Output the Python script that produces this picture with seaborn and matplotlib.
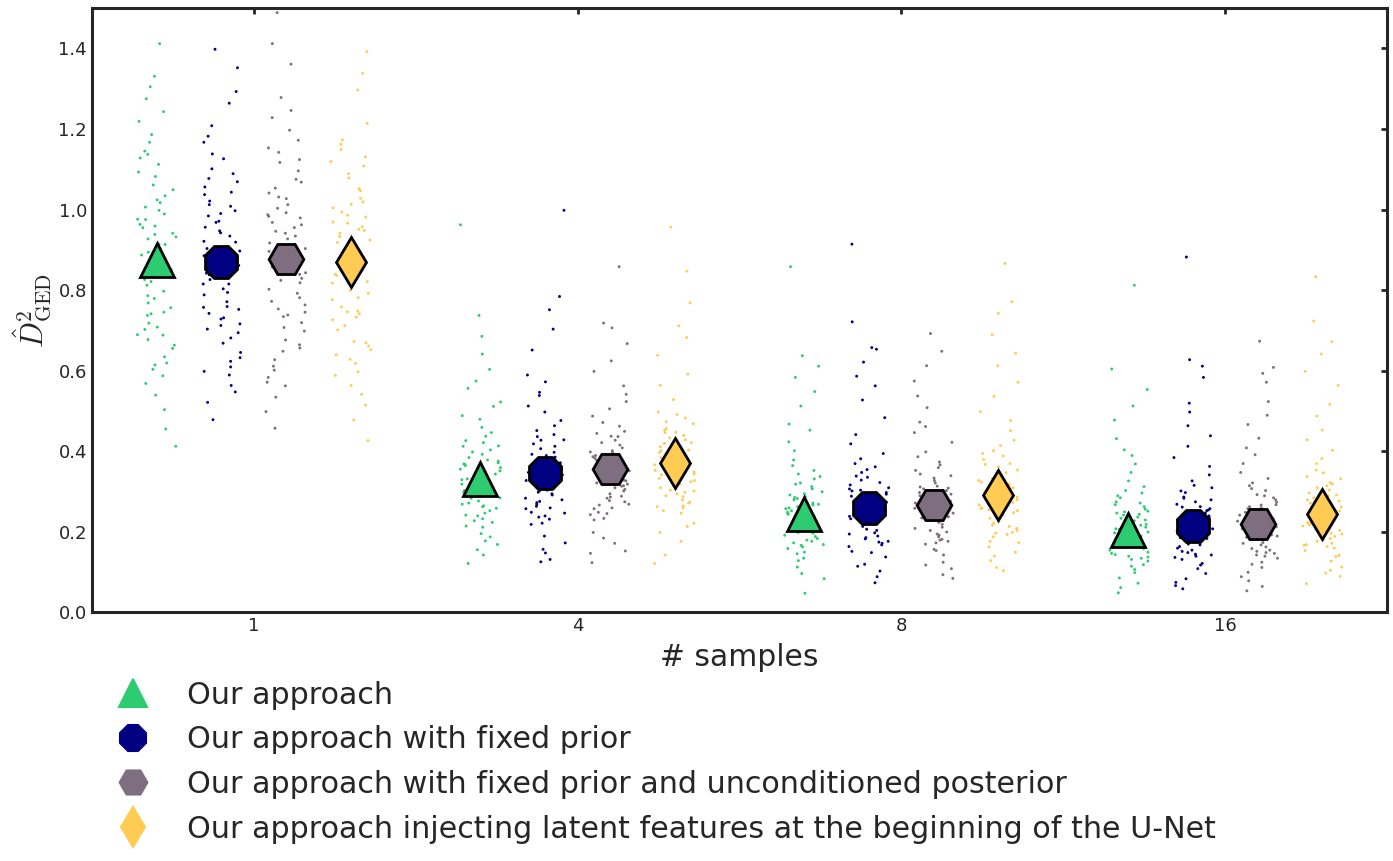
import numpy as np
import pandas as pd
import matplotlib
matplotlib.use("Agg")
import matplotlib.pyplot as plt
from matplotlib.lines import Line2D
import seaborn as sns

# groups on the x axis and the four methods
sample_counts = ["1", "4", "8", "16"]
methods = [
    "Our approach",
    "Our approach with fixed prior",
    "Our approach with fixed prior and unconditioned posterior",
    "Our approach injecting latent features at the beginning of the U-Net",
]
colores = ["#2ecc71", "#000080", "#7e6e7f", "#ffcb52"]
marcadores = ["^", "8", "H", "d"]

# mean values (big markers): rows = methods, cols = # samples
mean_vals = [
    [0.875, 0.330, 0.245, 0.205],
    [0.870, 0.345, 0.258, 0.215],
    [0.876, 0.356, 0.265, 0.220],
    [0.870, 0.370, 0.290, 0.245],
]

# individual values of the clouds, in thousandths
pts_1_m0 = """872 913 768 1024 655 941 887 702 1093 831 976 614 858 1137 745 903 689 998 812 1061
927 634 779 955 1112 843 718 1006 881 663 932 797 1049 756 869 1128 688 914 821 975 603 1082 737
894 959 851 1017 677 786 938 1145 826 708 963 892 741 1034 619 867 989 1186 1243 1305 1412 1167
1331 1219 1275 412 568 503 587 455 539"""
pts_1_m1 = """864 921 788 1012 703 956 842 731 1077 897 815 668 934 1101 752 881 623 990 849 1043
907 694 771 968 1126 838 742 1008 876 645 919 803 1056 728 861 1089 712 947 826 984 598 1069 759
903 873 815 1021 681 794 942 1138 833 716 971 885 757 1037 632 852 997 1182 1208 1264 1352 1398
1167 1293 478 563 521 589 547 609"""
pts_1_m2 = """881 934 772 1031 648 962 857 719 1096 903 824 601 946 1124 763 889 676 1003 839 1068
917 627 781 979 1142 846 734 1012 872 656 927 792 1053 745 866 1117 698 955 818 987 583 1075 753
909 968 843 1027 664 802 941 1153 829 707 983 896 738 1041 611 874 992 1197 1246 1278 1361 1412
1489 1172 1228 457 534 562 498 571"""
pts_1_m3 = """867 918 781 1019 672 951 853 726 1089 892 828 639 941 1108 758 884 661 994 836 1052
909 618 776 966 1119 849 741 1004 879 652 924 799 1047 733 863 1131 701 948 817 981 597 1078 748
904 957 839 1013 669 792 933 1149 821 712 969 887 746 1028 628 858 986 1173 1214 1297 1338 1392
1162 426 514 563 477 588 541"""

pts_4_m0 = """331 287 364 412 246 309 378 223 351 298 437 264 325 392 211 343 276 459 317 368 239
302 426 355 271 384 195 336 291 479 258 321 403 232 347 283 371 446 214 312 359 268 398 187 329
294 421 252 338 375 227 306 488 262 349 284 413 241 318 367 556 603 641 685 737 962 574 522 511
142 121 168 155 177"""
pts_4_m1 = """342 298 381 427 257 316 392 231 363 307 451 272 338 406 218 354 283 476 329 379 246
312 441 368 279 397 189 347 302 497 263 333 418 239 358 291 385 463 221 324 371 275 412 172 341
303 436 259 352 389 236 317 512 268 361 294 428 248 327 378 538 572 589 651 703 751 784 998 546
131 156 147 125"""
pts_4_m2 = """351 309 389 436 268 326 401 242 372 318 462 283 347 415 229 363 294 487 338 392 257
321 449 377 288 408 198 356 313 505 274 342 427 248 369 301 396 471 233 335 382 286 421 184 352
314 444 266 361 398 245 328 523 277 373 305 437 259 339 386 562 598 624 667 706 718 858 541 171
123 152 146"""
pts_4_m3 = """368 324 401 447 287 341 419 262 384 332 473 298 359 428 246 377 309 491 352 408 271
336 456 393 303 421 221 371 327 482 289 356 439 264 385 316 411 468 252 348 397 301 433 213 366
329 452 279 376 412 259 343 497 294 388 318 446 273 354 403 528 563 591 638 682 711 768 847 956
198 142 121 176"""

pts_8_m0 = """248 213 279 321 176 229 294 158 262 219 352 191 241 306 149 257 204 378 236 285 168
224 337 271 198 299 134 252 216 401 183 239 318 162 266 208 287 364 145 233 274 196 312 128 246
221 343 179 259 291 166 227 423 188 268 211 331 172 243 282 467 512 548 583 611 637 858 452 96
112 47 83"""
pts_8_m1 = """261 224 293 338 182 241 309 163 276 229 369 197 254 322 151 271 213 394 248 301 174
236 354 284 206 316 137 266 227 418 189 251 335 167 279 218 303 381 148 245 288 203 328 119 259
232 361 185 273 306 171 238 441 194 282 221 347 176 256 297 483 527 562 586 621 653 657 721 914
102 88 73 114"""
pts_8_m2 = """266 229 297 343 187 246 313 169 281 234 373 203 258 327 156 276 218 398 252 306 179
241 359 289 211 321 142 271 232 422 194 256 339 172 284 223 308 386 153 249 293 208 333 124 263
237 366 191 278 311 176 243 446 199 287 226 352 181 261 302 472 508 537 574 612 648 692 461 108
93 84 117"""
pts_8_m3 = """291 252 323 369 208 268 339 187 306 257 401 224 283 353 173 299 241 427 276 332 198
264 388 313 233 346 162 296 254 451 216 279 367 193 309 247 334 414 176 272 318 229 361 149 288
259 394 213 302 338 196 266 476 221 312 248 379 203 285 327 498 536 571 612 643 689 742 771 866
128 111 103 139"""

pts_16_m0 = """207 176 236 274 143 191 251 127 221 181 302 158 203 262 118 216 169 326 197 243 137
186 289 229 163 256 106 211 178 347 149 199 271 131 224 172 246 312 114 194 233 161 267 98 206
183 296 146 218 249 134 189 368 154 227 174 284 139 201 241 403 431 477 512 553 604 812 389 72
61 48 85"""
pts_16_m1 = """216 183 246 286 148 199 262 131 231 188 315 163 211 274 121 226 176 341 206 254 142
193 301 239 169 268 108 221 185 362 154 207 283 136 234 179 257 326 117 202 243 167 279 96 214
190 309 151 228 261 139 196 384 159 236 181 297 144 209 252 412 438 463 497 519 583 611 627 882
74 58 66 83"""
pts_16_m2 = """221 187 251 292 151 203 267 134 236 192 321 167 216 279 124 231 181 347 211 259 146
198 307 244 173 273 111 226 189 369 158 212 289 139 239 184 262 332 119 207 248 171 284 99 219
194 314 154 233 266 142 201 391 162 241 186 302 148 214 257 408 432 466 489 523 571 593 608 673
78 53 88 64"""
pts_16_m3 = """246 209 279 322 171 228 296 153 263 214 353 188 241 309 141 258 203 381 236 289 166
223 337 271 194 303 127 251 217 402 179 239 318 159 267 208 291 369 138 232 276 196 314 112 248
221 346 176 261 296 163 226 428 183 269 211 331 168 244 284 452 487 516 563 598 641 672 723 833
89 71 97 104"""

nubes = {
    "1": [pts_1_m0, pts_1_m1, pts_1_m2, pts_1_m3],
    "4": [pts_4_m0, pts_4_m1, pts_4_m2, pts_4_m3],
    "8": [pts_8_m0, pts_8_m1, pts_8_m2, pts_8_m3],
    "16": [pts_16_m0, pts_16_m1, pts_16_m2, pts_16_m3],
}

# long table for seaborn
filas = []
for s in sample_counts:
    for m, txt in zip(methods, nubes[s]):
        for v in txt.split():
            filas.append((s, m, int(v) / 1000.0))
df = pd.DataFrame(filas, columns=["samples", "method", "value"])

df_mean = pd.DataFrame(
    [(s, m, mean_vals[i][j]) for i, m in enumerate(methods) for j, s in enumerate(sample_counts)],
    columns=["samples", "method", "value"],
)

sns.set_theme(style="white")
plt.rcParams["mathtext.fontset"] = "cm"
plt.rcParams["font.family"] = ["DejaVu Sans"]

fig = plt.figure(figsize=(13.93, 8.61), dpi=100)
ax = fig.add_axes([0.066, 0.289, 0.9297, 0.7015])
paleta = dict(zip(methods, colores))

np.random.seed(3)
sns.stripplot(data=df, x="samples", y="value", hue="method", order=sample_counts,
              hue_order=methods, palette=paleta, dodge=True, jitter=0.25, size=2.1,
              linewidth=0, legend=False, ax=ax)

sns.pointplot(data=df_mean, x="samples", y="value", hue="method", order=sample_counts,
              hue_order=methods, palette=paleta, dodge=0.6, markers=marcadores,
              linestyles="none", errorbar=None, markersize=25, markeredgewidth=2.0,
              markeredgecolor="black", legend=False, ax=ax)
for ln in ax.lines:
    ln.set_markeredgecolor("black")
    ln.set_solid_joinstyle("round")
    ln.set_zorder(5)

ax.set_xlim(-0.5, 3.5)
ax.set_ylim(0, 1.5)
ax.set_yticks(np.arange(0, 1.41, 0.2))
ax.set_yticklabels([f"{t:.1f}" for t in np.arange(0, 1.41, 0.2)])
ax.set_xlabel("# samples", fontsize=21.5, color="#262626", labelpad=6)
ax.set_ylabel(r"$\hat{D}^2_{\mathrm{GED}}$", fontsize=22, color="#262626", labelpad=4)
ax.tick_params(direction="in", length=4.5, width=2, top=True, right=True,
               labelsize=13, colors="#262626")
for sp in ax.spines.values():
    sp.set_linewidth(2.2)
    sp.set_color("#262626")

handles = [Line2D([], [], linestyle="none", marker=mk, markersize=20, color=c,
                  markerfacecolor=c, markeredgecolor=c, markeredgewidth=1.5, label=m)
           for m, c, mk in zip(methods, colores, marcadores)]
leg = fig.legend(handles=handles, loc="upper left", bbox_to_anchor=(0.0685, 0.227),
                 frameon=False, fontsize=21.7, labelspacing=0.52, handletextpad=1.05,
                 handlelength=1.5, borderpad=0)
for t in leg.get_texts():
    t.set_color("#262626")

fig.savefig("out.png", dpi=100)
